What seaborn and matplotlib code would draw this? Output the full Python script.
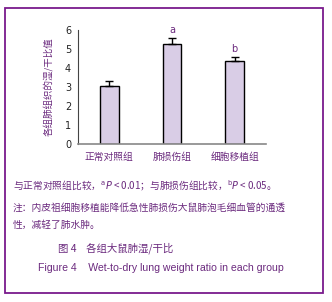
import matplotlib
matplotlib.use("Agg")
import matplotlib.pyplot as plt
import seaborn as sns
import pandas as pd
from matplotlib.patches import Rectangle

groups = ["正常对照组", "肺损伤组", "细胞移植组"]
means = [3.05, 5.27, 4.37]
errs = [0.25, 0.30, 0.22]
marks = ["", "a", "b"]
yticks = [0, 1, 2, 3, 4, 5, 6]

sns.set_theme(style="white")
plt.rcParams['font.family'] = ['Noto Sans CJK SC', 'DejaVu Sans']
plt.rcParams['mathtext.fontset'] = 'dejavusans'

PURPLE = "#6b2a7e"
BORDER = "#7a1a8c"
FILL = "#d9cde6"

fig = plt.figure(figsize=(3.32, 3.02), dpi=100)
ax = fig.add_axes([0.235, 0.523, 0.566, 0.378])

df = pd.DataFrame({"group": groups, "value": means})
sns.barplot(data=df, x="group", y="value", ax=ax, color=FILL, width=0.3,
            edgecolor="black", linewidth=1.0, errorbar=None, saturation=1)
ax.errorbar(range(len(groups)), means, yerr=[[0]*len(errs), errs], fmt="none",
            ecolor="black", elinewidth=1.0, capsize=3, capthick=1.0)
for i, (m, e, t) in enumerate(zip(means, errs, marks)):
    if t:
        ax.text(i, m + e + 0.15, t, ha="center", va="bottom", fontsize=7,
                color=PURPLE, family="DejaVu Sans")

ax.set_ylim(0, 6)
ax.set_xlim(-0.5, 2.5)
ax.set_yticks(yticks)
ax.set_yticklabels([str(v) for v in yticks], fontsize=7, color="#222222", family="DejaVu Sans")
ax.set_xticks(range(len(groups)))
ax.set_xticklabels(groups, fontsize=7, color=PURPLE)
ax.tick_params(axis="x", length=0, pad=6)
ax.set_xticks([0.5, 1.5, 2.5], minor=True)
ax.tick_params(axis="x", which="minor", direction="in", length=4, color="#444444", width=0.8)
ax.tick_params(axis="y", direction="out", length=3, width=0.8, color="#444444", pad=2)
ax.set_xlabel("")
ax.set_ylabel("各组肺组织的湿/干比值", fontsize=6.8, color=PURPLE, labelpad=8)
for s in ["top", "right"]:
    ax.spines[s].set_visible(False)
ax.spines["left"].set_color("#444444")
ax.spines["bottom"].set_color("#888888")
ax.spines["left"].set_linewidth(0.8)
ax.spines["bottom"].set_linewidth(1.2)

fig.patches.append(Rectangle((5/332, 1 - 293/302), 318/332, 285/302,
                             transform=fig.transFigure, fill=False,
                             edgecolor=BORDER, linewidth=1.3))

def ft(x, y, s, **kw):
    fig.text(x/332, 1 - y/302, s, va="center", color=PURPLE, **kw)

ft(13, 186, r"与正常对照组比较，$^{\rm a}\it P$ < 0.01；与肺损伤组比较，$^{\rm b}\it P$ < 0.05。", fontsize=7)
ft(13, 208, "注：内皮祖细胞移植能降低急性肺损伤大鼠肺泡毛细血管的通透", fontsize=7)
ft(13, 225, "性，减轻了肺水肿。", fontsize=7)
ft(58, 248, "图 4    各组大鼠肺湿/干比", fontsize=7.5)
ft(38, 268, "Figure 4    Wet-to-dry lung weight ratio in each group", fontsize=7.6, family="Liberation Sans")

fig.savefig("out.png", dpi=100)
